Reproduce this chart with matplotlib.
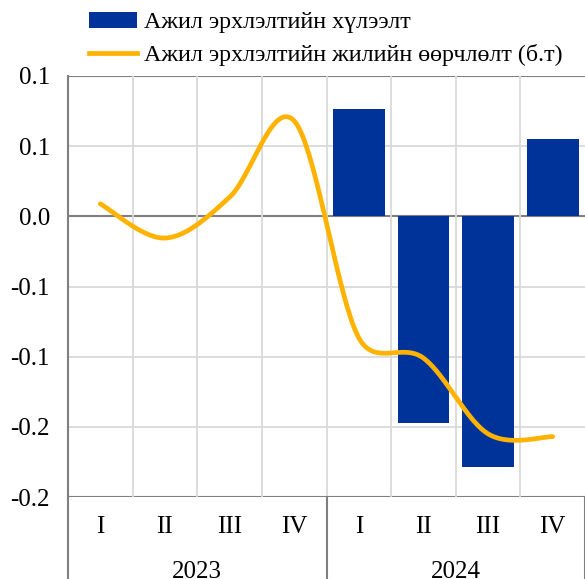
import matplotlib.pyplot as plt
import numpy as np
from matplotlib.patches import Patch
from matplotlib.lines import Line2D

plt.rcParams['font.family'] = ['Liberation Serif', 'DejaVu Serif']

quarters = ["I", "II", "III", "IV", "I", "II", "III", "IV"]
years = ["2023", "2024"]
bar_values = [np.nan, np.nan, np.nan, np.nan, 0.0767, -0.1476, -0.1786, 0.0548]
line_values = [0.0089, -0.0155, 0.0136, 0.068, -0.0866, -0.101, -0.155, -0.157]
yticks = [0.1, 0.05, 0.0, -0.05, -0.1, -0.15, -0.2]
ytick_labels = ["0.1", "0.1", "0.0", "-0.1", "-0.1", "-0.2", "-0.2"]

bar_label = "Ажил эрхлэлтийн хүлээлт"
line_label = "Ажил эрхлэлтийн жилийн өөрчлөлт (б.т)"

BLUE = "#003399"
GOLD = "#FFB300"


def smooth(ax, x, y, n=40):
    # Excel-like smoothed line: bezier handles of 1/6, clamped to half the segment (in pixels)
    pts = ax.transData.transform(np.column_stack([x, y]))
    p = np.vstack([pts[0], pts, pts[-1]])
    out = []
    t = np.linspace(0, 1, n)[:, None]
    for i in range(1, len(p) - 2):
        p0, p1, p2, p3 = p[i - 1], p[i], p[i + 1], p[i + 2]
        d12 = np.hypot(*(p2 - p1))
        d02 = np.hypot(*(p2 - p0))
        d13 = np.hypot(*(p3 - p1))
        f0 = 1/6 if d02 / 6 < d12 / 2 else d12 / 2 / d02
        f3 = 1/6 if d13 / 6 < d12 / 2 else d12 / 2 / d13
        c1 = p1 + (p2 - p0) * f0
        c2 = p2 - (p3 - p1) * f3
        b = (1 - t)**3 * p1 + 3 * (1 - t)**2 * t * c1 + 3 * (1 - t) * t**2 * c2 + t**3 * p2
        out.append(b)
    out = ax.transData.inverted().transform(np.vstack(out))
    return out[:, 0], out[:, 1]


fig = plt.figure(figsize=(5.85, 5.79), dpi=100)
ax = fig.add_axes([68/585, 82/579, 517/585, 421/579])
ax.set_xlim(-0.5, 7.5)
ax.set_ylim(-0.2, 0.1)

x = np.arange(len(quarters))
ax.bar(x, bar_values, width=0.8, color=BLUE, zorder=3)
sx, sy = smooth(ax, x, line_values)
ax.plot(sx, sy, color=GOLD, lw=3.4, zorder=4, solid_capstyle='round')

ax.set_yticks(yticks)
ax.set_yticklabels(ytick_labels, fontsize=18)
ax.tick_params(axis='y', length=0, pad=13)
ax.set_xticks([])

for yv in yticks:
    c = "#7f7f7f" if yv in (0.0, 0.1, -0.2) else "#d9d9d9"
    ax.axhline(yv, color=c, lw=1.5 if c == "#7f7f7f" else 1.3, zorder=1)
for xv in np.arange(0.5, 7.5, 1):
    ax.axvline(xv, color="#d9d9d9", lw=1.3, zorder=1)

for s in ['top', 'right', 'bottom']:
    ax.spines[s].set_visible(False)
ax.spines['left'].set_color("#7f7f7f")
ax.spines['left'].set_linewidth(1.5)

trans = ax.get_xaxis_transform()
for xi, q in zip(x, quarters):
    ax.text(xi, -0.072, q, transform=trans, ha='center', va='center', fontsize=18)
for i, yr in enumerate(years):
    ax.text(1.5 + 4 * i, -0.177, yr, transform=trans, ha='center', va='center', fontsize=18)
for xv in [-0.5, 3.5, 7.5]:
    ax.plot([xv, xv], [0, -0.25], transform=trans, color="#7f7f7f", lw=1.5, clip_on=False)

handles = [Patch(facecolor=BLUE, label=bar_label),
           Line2D([], [], color=GOLD, lw=3.4, label=line_label)]
fig.legend(handles=handles, loc='upper left', bbox_to_anchor=(79/585, 1 - 2/579),
           frameon=False, fontsize=17.3, handlelength=2.0, handletextpad=0.3,
           labelspacing=0.45, borderaxespad=0)

plt.savefig("out.png", dpi=100)
